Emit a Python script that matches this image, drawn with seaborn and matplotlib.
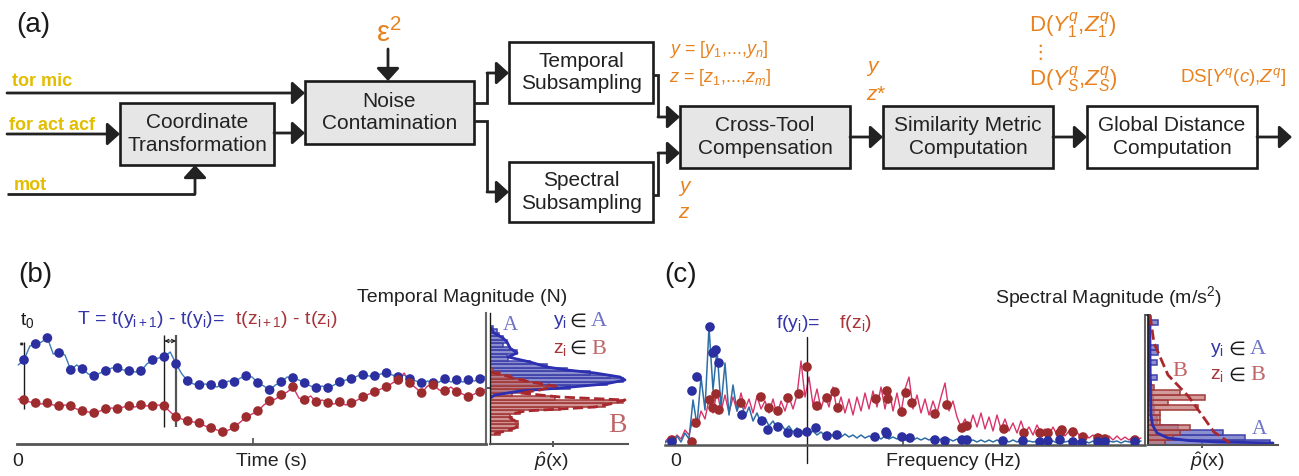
import numpy as np
import matplotlib
matplotlib.use("Agg")
import matplotlib.pyplot as plt
from matplotlib.patches import Rectangle
import seaborn as sns

sns.set_theme(style="white")
plt.rcParams["font.family"] = ["Liberation Sans", "DejaVu Sans"]
plt.rcParams["mathtext.fontset"] = "custom"
plt.rcParams["mathtext.rm"] = "Liberation Sans"
plt.rcParams["mathtext.it"] = "Liberation Sans:italic"
plt.rcParams["mathtext.bf"] = "Liberation Sans:bold"

W, H = 1299, 476

# colours
BLUE_DOT = "#2b2f9f"
BLUE_LINE = "#3b7cb8"
BLUE_TXT = "#3436a8"
RED_DOT = "#9c2c2e"
RED_LINE = "#d8336a"
RED_TXT = "#a8343a"
LIGHT_A = "#6e72c8"
LIGHT_B = "#c06466"
ORANGE = "#e8821e"
YELLOW = "#e2bd00"
LINE = "#222222"
GRAY_BOX = "#e6e6e6"

# ---------------- panel (b): temporal magnitude ----------------
# one dot per sampling period T (index of the sample)
t_dots = np.arange(40)
b_blue_dots = [8.4, 10.0, 10.6, 9.1, 7.4, 7.5, 6.8, 7.3, 7.6, 7.3,
               7.3, 8.4, 8.7, 8.0, 6.3, 5.9, 5.9, 6.0, 6.2, 6.8,
               6.1, 5.4, 6.2, 6.6, 6.1, 5.6, 5.6, 6.2, 6.5, 6.9,
               6.8, 7.1, 6.7, 6.5, 6.1, 6.1, 6.5, 6.4, 6.4, 6.5]
b_red_dots = [4.4, 4.1, 4.1, 3.8, 3.8, 3.3, 3.1, 3.5, 3.5, 3.8,
              3.9, 3.8, 3.8, 2.7, 2.3, 2.1, 1.6, 1.2, 1.7, 2.7,
              3.3, 4.3, 4.9, 5.7, 4.4, 4.2, 4.1, 4.2, 4.1, 4.7,
              5.2, 5.7, 6.4, 6.1, 5.1, 5.9, 5.3, 5.2, 4.7, 5.2]

# continuous signal, read every half period
t_line = np.arange(81) * 0.5 - 0.5
b_blue_line = [7.9, 8.4, 9.8, 10.0, 10.2, 10.6, 9.0, 9.1, 8.9, 7.4,
               7.9, 7.5, 7.0, 6.8, 7.1, 7.3, 7.6, 7.6, 7.4, 7.3,
               7.2, 7.3, 8.0, 8.4, 8.6, 8.7, 9.2, 8.0, 7.0, 6.3,
               6.0, 5.9, 6.0, 5.9, 5.7, 6.0, 6.3, 6.2, 6.6, 6.8,
               6.7, 6.1, 5.8, 5.4, 5.9, 6.2, 6.7, 6.6, 6.4, 6.1,
               5.8, 5.6, 5.8, 5.6, 5.9, 6.2, 6.4, 6.5, 6.8, 6.9,
               6.8, 6.8, 7.0, 7.1, 6.9, 6.7, 6.9, 6.5, 6.3, 6.1,
               6.3, 6.1, 6.2, 6.5, 6.2, 6.4, 6.2, 6.4, 6.3, 6.5,
               6.8]
b_red_line = [4.5, 4.4, 4.2, 4.1, 4.0, 4.1, 3.9, 3.8, 3.9, 3.8,
              3.5, 3.3, 3.2, 3.1, 3.3, 3.5, 3.6, 3.5, 3.7, 3.8,
              3.7, 3.9, 3.8, 3.8, 3.9, 3.8, 3.2, 2.7, 2.5, 2.3,
              2.2, 2.1, 1.8, 1.6, 1.4, 1.2, 1.4, 1.7, 2.2, 2.7,
              3.0, 3.3, 3.9, 4.3, 4.5, 4.9, 5.2, 5.7, 4.6, 4.4,
              4.8, 4.2, 4.4, 4.1, 4.0, 4.2, 3.9, 4.1, 4.4, 4.7,
              5.0, 5.2, 5.5, 5.7, 6.1, 6.4, 7.1, 6.1, 5.6, 5.1,
              5.8, 5.9, 5.4, 5.3, 5.7, 5.2, 5.0, 4.7, 5.0, 5.2,
              5.5]

# magnitude histograms (bin edges in N, bar lengths in density units)
b_blue_edges = [4.85, 5.2, 5.55, 5.9, 6.25, 6.6, 6.95, 7.3, 7.65, 8.0, 8.35,
                8.7, 9.05, 9.4, 9.75, 10.1, 10.45, 10.8, 11.15, 11.5, 11.85]
b_blue_hist = [0.4, 4.0, 8.0, 11.7, 13.3, 12.0, 10.0, 7.7, 5.7, 4.0,
               1.8, 1.7, 2.7, 2.0, 1.3, 1.7, 1.3, 0.9, 0.7, 0.3]
b_red_edges = [0.95, 1.3, 1.65, 2.0, 2.35, 2.7, 3.05, 3.4, 3.75, 4.1,
               4.45, 4.8, 5.15, 5.5, 5.85, 6.2, 6.55, 6.9, 7.25, 7.6]
b_red_hist = [1.0, 2.2, 2.8, 2.8, 2.2, 2.0, 3.0, 7.0, 11.5, 13.3,
              6.5, 2.2, 3.5, 6.7, 5.0, 3.5, 2.0, 1.0, 0.3]

# density estimates (density, magnitude)
b_kde_blue_d = [0, 0.4, 1.3, 1.7, 2.0, 2.7, 1.8, 4.0, 5.7, 7.7, 10.5, 13.0, 13.5, 11.5, 7.0, 3.0, 0.5, 0]
b_kde_blue_m = [11.7, 11.1, 10.6, 10.2, 9.6, 9.1, 8.7, 8.2, 7.7, 7.4, 7.1, 6.7, 6.4, 6.0, 5.6, 5.3, 4.9, 4.6]
b_kde_red_d = [0, 1.0, 2.3, 4.0, 6.5, 5.0, 3.0, 7.0, 13.5, 12.0, 10.5, 3.5, 2.2, 2.0, 2.7, 2.8, 2.5, 1.5, 0]
b_kde_red_m = [7.2, 7.0, 6.6, 6.2, 5.8, 5.4, 5.1, 4.7, 4.4, 4.0, 3.7, 3.3, 3.0, 2.6, 2.2, 1.9, 1.6, 1.3, 0.9]

# ---------------- panel (c): spectral magnitude ----------------
freq = np.arange(120) * 0.4
c_blue_line = [0.2, 0.6, 0.2, 0.9, 0.3, 1.2, 0.6, 4.5, 2.0, 6.8,
               3.5, 11.8, 5.5, 9.6, 3.8, 8.2, 3.0, 6.0, 3.4, 4.6,
               2.8, 3.8, 2.4, 3.2, 2.2, 2.7, 1.9, 2.4, 1.7, 2.1,
               1.5, 1.9, 1.3, 1.7, 1.2, 1.5, 1.1, 1.4, 1.0, 1.3,
               0.9, 1.2, 0.9, 1.1, 0.8, 1.1, 0.8, 1.0, 0.7, 1.0,
               0.7, 0.9, 0.7, 0.9, 0.6, 0.9, 0.6, 0.8, 0.6, 0.8,
               0.5, 0.8, 0.5, 0.7, 0.5, 0.7, 0.5, 0.7, 0.4, 0.6,
               0.4, 0.6, 0.4, 0.6, 0.4, 0.6, 0.4, 0.5, 0.3, 0.5,
               0.3, 0.5, 0.3, 0.5, 0.3, 0.5, 0.3, 0.5, 0.3, 0.5,
               0.3, 0.4, 0.3, 0.4, 0.2, 0.4, 0.3, 0.4, 0.2, 0.4,
               0.3, 0.4, 0.2, 0.4, 0.3, 0.4, 0.2, 0.4, 0.3, 0.4,
               0.2, 0.4, 0.3, 0.4, 0.2, 0.4, 0.3, 0.4, 0.3, 0.4]
c_red_line = [0.3, 0.8, 0.4, 1.0, 0.6, 1.5, 1.0, 2.6, 1.8, 3.4,
              2.6, 4.6, 3.2, 5.4, 3.4, 5.0, 3.2, 4.8, 3.4, 5.2,
              3.6, 4.6, 3.2, 4.9, 3.6, 4.4, 3.2, 4.6, 3.0, 4.4,
              3.4, 4.8, 3.6, 5.0, 8.4, 4.8, 6.8, 4.0, 5.6, 3.6,
              5.0, 3.8, 5.8, 3.4, 4.8, 3.2, 4.6, 3.0, 4.8, 3.4,
              5.2, 3.6, 5.4, 3.8, 5.8, 3.6, 5.6, 3.4, 5.2, 3.2,
              5.6, 6.8, 3.6, 5.0, 3.2, 4.6, 3.0, 4.4, 3.2, 4.8,
              6.2, 3.4, 4.4, 2.8, 1.8, 2.6, 1.6, 3.0, 1.8, 3.2,
              1.6, 2.8, 1.4, 3.0, 1.6, 2.6, 1.4, 2.2, 1.2, 2.4,
              1.2, 1.8, 1.0, 2.0, 1.2, 1.6, 1.0, 1.8, 1.0, 1.6,
              0.9, 1.4, 0.8, 1.3, 0.7, 1.1, 0.7, 1.0, 0.6, 1.0,
              0.6, 0.9, 0.5, 0.9, 0.5, 0.8, 0.5, 0.8, 0.5, 0.7]

c_blue_dot_f = [0.7, 2.7, 3.2, 4.5, 4.8, 5.1, 5.4, 7.7, 9.7, 10.3, 11.3, 12.3,
                13.3, 14.2, 15.1, 16.2, 17.2, 21.0, 22.1, 22.2, 23.7, 24.5,
                27.0, 28.0, 29.7, 30.2, 33.8, 35.8, 37.5, 38.3, 39.5, 40.8,
                41.7, 43.3, 44.0, 47.0]
c_blue_dot_m = [0.3, 5.4, 6.8, 11.8, 9.2, 9.5, 8.2, 3.0, 2.4, 1.5, 1.8, 1.2,
                1.2, 1.3, 1.7, 0.9, 1.0, 0.8, 1.3, 1.1, 0.8, 0.7,
                0.5, 0.4, 0.5, 0.5, 0.4, 0.4, 0.3, 0.4, 0.5, 0.3,
                0.2, 0.3, 0.3, 0.3]
c_red_dot_f = [0.7, 2.7, 3.1, 4.5, 4.8, 5.1, 5.4, 7.6, 9.6, 10.4, 11.3, 12.3,
               13.4, 14.2, 15.2, 16.2, 17.0, 17.3, 21.1, 22.2, 22.3, 23.7,
               24.1, 24.7, 27.0, 28.2, 29.7, 30.2, 33.9, 35.9, 37.5, 38.3,
               39.5, 39.7, 40.8, 41.8, 43.3, 44.0, 47.0]
c_red_dot_m = [0.5, 0.3, 2.2, 4.5, 3.7, 5.1, 3.5, 4.2, 4.8, 3.7, 3.4, 4.7,
               5.1, 7.8, 3.9, 4.7, 5.3, 3.7, 4.6, 5.4, 4.6, 3.3,
               5.2, 4.2, 3.1, 4.0, 1.7, 1.9, 1.6, 1.2, 1.2, 1.2,
               1.2, 1.5, 1.3, 0.8, 0.7, 0.6, 0.5]

c_edges = [0, 0.5, 1, 1.5, 2, 2.5, 3, 3.5, 4, 4.5, 5, 5.5, 6, 6.5, 7, 7.5, 8,
           8.5, 9, 9.5, 10, 10.5, 11, 11.5, 12, 12.5, 13]
c_blue_hist = [12.2, 9.7, 7.5, 3.0, 0.9, 0.9, 0.6, 0.6, 0.5, 0.5, 0.4, 0.4, 0.3,
               0.9, 0, 0, 0.9, 0, 1.0, 1.0, 0, 0, 0, 0, 1.0, 0]
c_red_hist = [1.7, 2.5, 3.2, 4.2, 1.2, 1.2, 1.2, 5.0, 2.0, 5.7, 3.2, 0.6, 0,
              0, 0, 0, 0, 0, 0, 0, 0, 0, 0, 0, 0, 0]
c_kde_blue_d = [0.2, 0.2, 0.25, 0.3, 0.45, 0.9, 2.0, 4.0, 7.0, 10.0, 12.5]
c_kde_blue_m = [13.0, 9.0, 5.0, 3.0, 2.0, 1.2, 0.7, 0.45, 0.3, 0.25, 0.2]
c_kde_red_d = [0.2, 0.6, 2.0, 4.1, 6.6, 8.2]
c_kde_red_m = [13.0, 10.2, 7.0, 4.8, 1.3, 0.2]


fig = plt.figure(figsize=(W / 100, H / 100), dpi=100)


def px_axes(left, right, top, bottom):
    return fig.add_axes([left / W, 1 - bottom / H, (right - left) / W, (bottom - top) / H])


def bare(ax):
    for s in ax.spines.values():
        s.set_visible(False)
    ax.set_xticks([])
    ax.set_yticks([])
    ax.set_xlabel("")
    ax.set_ylabel("")
    ax.patch.set_alpha(0)


def mids_of(edges):
    return [(a + b) / 2 for a, b in zip(edges[:-1], edges[1:])]


# ---- panel (b) main ----
ax_b = px_axes(17, 486, 313, 444)
sns.lineplot(x=t_line, y=b_blue_line, ax=ax_b, color=BLUE_LINE, lw=1, estimator=None, sort=False)
sns.lineplot(x=t_line, y=b_red_line, ax=ax_b, color=RED_LINE, lw=1, estimator=None, sort=False)
sns.scatterplot(x=t_dots, y=b_blue_dots, ax=ax_b, color=BLUE_DOT, s=48, edgecolor="none", zorder=3)
sns.scatterplot(x=t_dots, y=b_red_dots, ax=ax_b, color=RED_DOT, s=48, edgecolor="none", zorder=3)
ax_b.set_xlim(-0.6, 39.5)
ax_b.set_ylim(0, 13.1)
bare(ax_b)
ax_b.spines["bottom"].set_visible(True)
ax_b.spines["bottom"].set_color("#555555")
ax_b.spines["bottom"].set_linewidth(2)
ax_b.spines["right"].set_visible(True)
ax_b.spines["right"].set_color("#666666")
ax_b.spines["right"].set_linewidth(1.5)
ax_b.set_xticks([19.6])
ax_b.set_xticklabels([])
ax_b.tick_params(axis="x", direction="in", length=4, color="#555555", bottom=True)
ax_b.vlines(0, 3.5, 10.2, color="k", lw=1)
ax_b.vlines(12, 1.7, 10.9, color="k", lw=1)
ax_b.vlines(13, 1.7, 10.9, color="#555555", lw=1.6)
ax_b.annotate("", xy=(13, 10.3), xytext=(12, 10.3),
              arrowprops=dict(arrowstyle="<->", lw=0.8, color="k", mutation_scale=6, shrinkA=0, shrinkB=0))
ax_b.annotate("", xy=(0, 10.0), xytext=(-0.4, 10.0),
              arrowprops=dict(arrowstyle="<->", lw=0.6, color="k", mutation_scale=4, shrinkA=0, shrinkB=0))

# ---- panel (b) histogram ----
ax_bh = px_axes(490, 628, 313, 444)
sns.histplot(y=mids_of(b_blue_edges), weights=b_blue_hist, bins=b_blue_edges, ax=ax_bh,
             color="#6f73c4", alpha=0.8, edgecolor="#3e42a8", linewidth=1.1)
sns.histplot(y=mids_of(b_red_edges), weights=b_red_hist, bins=b_red_edges, ax=ax_bh,
             color="#c37a78", alpha=0.8, edgecolor="#a23a3a", linewidth=1.1)
sns.lineplot(x=b_kde_blue_d, y=b_kde_blue_m, ax=ax_bh, color="#2b2fb0", lw=2, estimator=None, sort=False)
sns.lineplot(x=b_kde_red_d, y=b_kde_red_m, ax=ax_bh, color="#a8282e", lw=2, linestyle="--",
             estimator=None, sort=False)
ax_bh.set_xlim(0, 13.8)
ax_bh.set_ylim(0, 13.1)
bare(ax_bh)
ax_bh.spines["left"].set_visible(True)
ax_bh.spines["left"].set_color("k")
ax_bh.spines["left"].set_linewidth(1)
ax_bh.spines["bottom"].set_visible(True)
ax_bh.spines["bottom"].set_color("#555555")
ax_bh.spines["bottom"].set_linewidth(1.5)
ax_bh.set_xticks([6.3])
ax_bh.set_xticklabels([])
ax_bh.set_yticks([5.6])
ax_bh.set_yticklabels([])
ax_bh.tick_params(direction="inout", length=5, color="#444444", bottom=True, left=True)

# ---- panel (c) main ----
ax_c = px_axes(665, 1145, 315, 445)
sns.lineplot(x=freq, y=c_red_line, ax=ax_c, color=RED_LINE, lw=1, estimator=None, sort=False)
sns.lineplot(x=freq, y=c_blue_line, ax=ax_c, color="#2d6ea6", lw=1.1, estimator=None, sort=False)
sns.scatterplot(x=c_red_dot_f, y=c_red_dot_m, ax=ax_c, color=RED_DOT, s=48, edgecolor="none", zorder=3)
sns.scatterplot(x=c_blue_dot_f, y=c_blue_dot_m, ax=ax_c, color=BLUE_DOT, s=48, edgecolor="none", zorder=3)
ax_c.set_xlim(0, 48)
ax_c.set_ylim(0, 13)
bare(ax_c)
ax_c.spines["bottom"].set_visible(True)
ax_c.spines["bottom"].set_color("#555555")
ax_c.spines["bottom"].set_linewidth(1.8)
ax_c.spines["right"].set_visible(True)
ax_c.spines["right"].set_color("#666666")
ax_c.spines["right"].set_linewidth(1.5)
ax_c.set_xticks([23.8])
ax_c.set_xticklabels([])
ax_c.tick_params(axis="x", direction="in", length=4, color="#555555", bottom=True)
ax_c.plot([14.2, 14.2], [10.8, -1.8], color="k", lw=1, clip_on=False)

# ---- panel (c) histogram ----
ax_ch = px_axes(1148, 1278, 315, 445)
c_mids = mids_of(c_edges)
sns.histplot(y=c_mids, weights=c_blue_hist, bins=c_edges, ax=ax_ch, color="#6f73c4",
             alpha=0.8, edgecolor="#3e42a8", linewidth=1.1)
sns.histplot(y=c_mids, weights=c_red_hist, bins=c_edges, ax=ax_ch, color="#c37a78",
             alpha=0.75, edgecolor="#a23a3a", linewidth=1.1)
sns.lineplot(x=c_kde_blue_d, y=c_kde_blue_m, ax=ax_ch, color="#2b2fb0", lw=2, estimator=None, sort=False)
sns.lineplot(x=c_kde_red_d, y=c_kde_red_m, ax=ax_ch, color="#a8282e", lw=2, linestyle="--",
             estimator=None, sort=False)
ax_ch.set_xlim(0, 13)
ax_ch.set_ylim(0, 13)
bare(ax_ch)
ax_ch.spines["left"].set_visible(True)
ax_ch.spines["left"].set_color("k")
ax_ch.spines["left"].set_linewidth(1.2)
ax_ch.spines["bottom"].set_visible(True)
ax_ch.spines["bottom"].set_color("#555555")
ax_ch.spines["bottom"].set_linewidth(1.5)
ax_ch.set_xticks([5.4])
ax_ch.set_xticklabels([])
ax_ch.set_yticks([13])
ax_ch.set_yticklabels([])
ax_ch.tick_params(direction="inout", length=5, color="#444444", bottom=True, left=True)

# ---------------- overlay in pixel coordinates: diagram + labels ----------------
ax = fig.add_axes([0, 0, 1, 1])
ax.set_xlim(0, W)
ax.set_ylim(H, 0)
ax.axis("off")


def t(x, y, s, **kw):
    kw.setdefault("ha", "center")
    kw.setdefault("va", "center")
    ax.text(x, y, s, **kw)


def arrow(pts):
    xs = [p[0] for p in pts]
    ys = [p[1] for p in pts]
    if len(pts) > 2:
        ax.plot(xs[:-1], ys[:-1], color=LINE, lw=2, solid_capstyle="butt", solid_joinstyle="miter")
    ax.annotate("", xy=pts[-1], xytext=pts[-2],
                arrowprops=dict(arrowstyle="-|>,head_length=0.55,head_width=0.5", color=LINE,
                                lw=2, shrinkA=0, shrinkB=0, mutation_scale=14))


boxes = [
    (120, 103, 274, 165, "Coordinate\nTransformation", GRAY_BOX),
    (305, 81, 474, 144, "Noise\nContamination", GRAY_BOX),
    (509, 42, 653, 103, "Temporal\nSubsampling", "white"),
    (509, 162, 653, 222, "Spectral\nSubsampling", "white"),
    (680, 106, 850, 168, "Cross-Tool\nCompensation", GRAY_BOX),
    (883, 106, 1053, 168, "Similarity Metric\nComputation", GRAY_BOX),
    (1087, 106, 1257, 168, "Global Distance\nComputation", "white"),
]
for x0, y0, x1, y1, label, fc in boxes:
    ax.add_patch(Rectangle((x0, y0), x1 - x0, y1 - y0, facecolor=fc, edgecolor="#1a1a1a", lw=1.9))
    t((x0 + x1) / 2, (y0 + y1) / 2, label, fontsize=15, color="#222222", linespacing=1.25)

arrow([(7, 93), (305, 93)])
arrow([(7, 134), (120, 134)])
arrow([(7, 194), (195, 194), (195, 165)])
arrow([(274, 133), (305, 133)])
arrow([(388, 49), (388, 81)])
arrow([(474, 103), (487, 103), (487, 73), (509, 73)])
arrow([(474, 121), (487, 121), (487, 192), (509, 192)])
arrow([(653, 75), (658, 75), (658, 117), (680, 117)])
arrow([(653, 195), (658, 195), (658, 153), (680, 153)])
arrow([(850, 137), (883, 137)])
arrow([(1053, 137), (1087, 137)])
arrow([(1257, 137), (1292, 137)])

t(12, 82, "tor mic", ha="left", fontsize=13, fontweight="bold", color=YELLOW)
t(9, 125, "for act acf", ha="left", fontsize=13, fontweight="bold", color=YELLOW)
t(14, 185, "mot", ha="left", fontsize=13, fontweight="bold", color=YELLOW)

t(389, 33, r"ε$^2$", fontsize=21, color=ORANGE)
t(669, 50, r"$y$ = [$y_1$,...,$y_n$]", ha="left", fontsize=13, color=ORANGE)
t(669, 77, r"$z$ = [$z_1$,...,$z_m$]", ha="left", fontsize=13, color=ORANGE)
t(866, 68, r"$y$", ha="left", fontsize=15, color=ORANGE)
t(866, 94, r"$z$*", ha="left", fontsize=15, color=ORANGE)
t(678, 188, r"$y$", ha="left", fontsize=15, color=ORANGE)
t(678, 213, r"$z$", ha="left", fontsize=15, color=ORANGE)
t(1029, 26, r"D($Y^q_1$,$Z^q_1$)", ha="left", fontsize=16, color=ORANGE)
t(1040, 53, "⋮", fontsize=14, color=ORANGE)
t(1029, 80, r"D($Y^q_S$,$Z^q_S$)", ha="left", fontsize=16, color=ORANGE)
t(1180, 77, r"DS[$Y^q$($c$),$Z^q$]", ha="left", fontsize=13.5, color=ORANGE)

# panel labels
t(33, 25, "(a)", fontsize=20, color="k")
t(35, 275, "(b)", fontsize=20, color="k")
t(681, 275, "(c)", fontsize=20, color="k")

# panel (b) texts
t(462, 297, "Temporal Magnitude (N)", fontsize=14, color="#222222")
t(27, 320, r"t$_0$", fontsize=14, color="k")
t(77, 320, r"T = t(y$_{\mathrm{i+1}}$) - t(y$_\mathrm{i}$)=", ha="left", fontsize=14, color=BLUE_TXT)
t(230, 320, r" t(z$_{\mathrm{i+1}}$) - t(z$_\mathrm{i}$)", ha="left", fontsize=14, color=RED_TXT)
t(18, 462, "0", fontsize=14, color="#222222")
t(272, 462, "Time (s)", fontsize=14, color="#222222")
t(551, 462, r"$\hat{p}$(x)", fontsize=14, color="#222222")
t(510, 325, "A", fontsize=15, color=LIGHT_A, family="Liberation Serif")
t(617, 425, "B", fontsize=20, color=LIGHT_B, family="Liberation Serif")
t(553, 322, r"y$_\mathrm{i}$", ha="left", fontsize=14, color=BLUE_TXT)
t(578, 322, "∈", fontsize=14, color="k")
t(599, 322, "A", fontsize=16, color=LIGHT_A, family="Liberation Serif")
t(553, 349, r"z$_\mathrm{i}$", ha="left", fontsize=14, color=RED_TXT)
t(578, 349, "∈", fontsize=14, color="k")
t(599, 349, "B", fontsize=16, color=LIGHT_B, family="Liberation Serif")

# panel (c) texts
t(1108, 297, r"Spectral Magnitude (m/s$^2$)", fontsize=14, color="#222222")
t(776, 323, r"f(y$_\mathrm{i}$)=", ha="left", fontsize=14, color=BLUE_TXT)
t(834, 323, r" f(z$_\mathrm{i}$)", ha="left", fontsize=14, color=RED_TXT)
t(676, 462, "0", fontsize=14, color="#222222")
t(953, 462, "Frequency (Hz)", fontsize=14, color="#222222")
t(1207, 462, r"$\hat{p}$(x)", fontsize=14, color="#222222")
t(1180, 372, "B", fontsize=16, color=LIGHT_B, family="Liberation Serif")
t(1259, 430, "A", fontsize=15, color=LIGHT_A, family="Liberation Serif")
t(1210, 350, r"y$_\mathrm{i}$", ha="left", fontsize=14, color=BLUE_TXT)
t(1237, 350, "∈", fontsize=14, color="k")
t(1258, 350, "A", fontsize=16, color=LIGHT_A, family="Liberation Serif")
t(1210, 376, r"z$_\mathrm{i}$", ha="left", fontsize=14, color=RED_TXT)
t(1237, 376, "∈", fontsize=14, color="k")
t(1258, 376, "B", fontsize=16, color=LIGHT_B, family="Liberation Serif")

fig.savefig("out.png", dpi=100)
